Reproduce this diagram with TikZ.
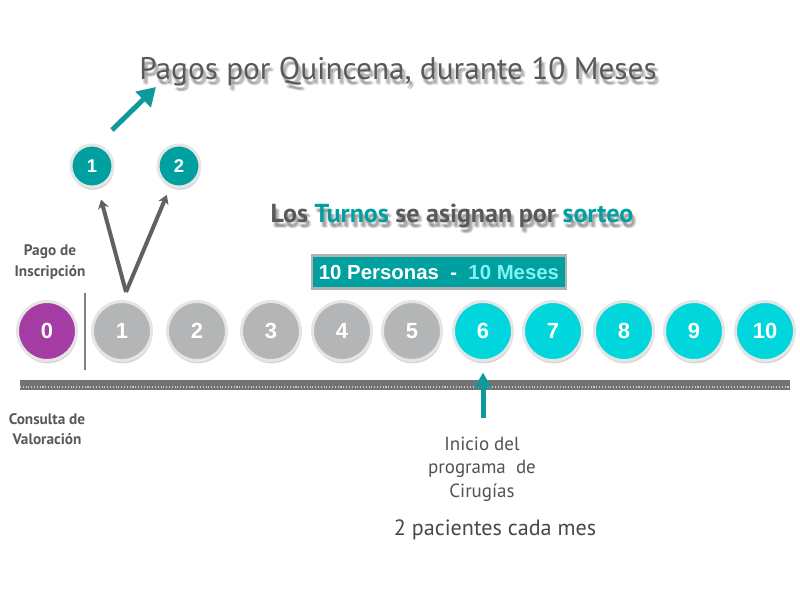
\documentclass[tikz,border=0pt]{standalone}
\usepackage{fontspec}
\setmainfont{PT Sans}
\newfontfamily\arialb{Liberation Sans}
\usetikzlibrary{shadows,arrows.meta}
\definecolor{tealdark}{HTML}{00A0A0}
\definecolor{tealbright}{HTML}{00D6DC}
\definecolor{tealarrow}{HTML}{0E9A9A}
\definecolor{purp}{HTML}{A43CA4}
\definecolor{grisc}{HTML}{B3B5B6}
\definecolor{txt}{HTML}{595959}
\definecolor{cielo}{HTML}{80F4F4}
\begin{document}
\begin{tikzpicture}[x=0.02cm,y=-0.02cm,
  bola/.style={circle,draw=black!10,line width=1.7pt,minimum size=1.18cm,inner sep=0pt,
    text=white,font=\arialb\bfseries\fontsize{12.5}{12.5}\selectfont,
    drop shadow={shadow xshift=0.4pt,shadow yshift=-1.6pt,opacity=.35}},
  chica/.style={bola,minimum size=0.84cm,fill=tealdark,font=\arialb\bfseries\fontsize{10.5}{10.5}\selectfont},
  rotulo/.style={text=txt,align=center,font=\bfseries\fontsize{8.7}{11.5}\selectfont},
  sombra/.style={text=black,text opacity=.12}]
\useasboundingbox (0,0) rectangle (800,600);
% title with a soft shadow
\foreach \dx/\dy in {2/4,4/5,3/6,1/5}
  \node[sombra,font=\fontsize{17.8}{17.8}\selectfont] at (398+\dx,72+\dy) {Pagos por Quincena, durante 10 Meses};
\node[text=txt,font=\fontsize{17.8}{17.8}\selectfont] (titulo) at (398,72) {Pagos por Quincena, durante 10 Meses};
\coordinate (p0) at (112,130);
\coordinate (p1) at (156,87);
\draw[tealarrow,line width=0.1cm,-{Triangle[width=0.42cm,length=0.36cm]}] (p0) -- (p1);
% small circles
\node[chica] (s1) at (92,166) {1};
\node[chica] (s2) at (179,166) {2};
% subtitle
\foreach \dx/\dy in {2/4,4/5,3/6,1/5}
  \node[sombra,font=\bfseries\fontsize{14.8}{14.8}\selectfont] at (452+\dx,216+\dy) {Los Turnos se asignan por sorteo};
\node[text=txt,font=\bfseries\fontsize{14.8}{14.8}\selectfont] (turnos) at (452,216)
  {Los \textcolor{tealdark}{Turnos} se asignan por \textcolor{tealdark}{sorteo}};
\node[fill=tealdark,draw=black!30,line width=1.2pt,minimum width=5.08cm,minimum height=0.66cm,
  text=white,font=\arialb\bfseries\fontsize{11.6}{11.6}\selectfont] (caja) at (439,272)
  {10 Personas\ \ -\ \ \textcolor{cielo}{10 Meses}};
% labels
\node[rotulo] (pago) at (50,262) {Pago de\\Inscripción};
\node[rotulo] (consulta) at (47,429) {Consulta de\\Valoración};
% timeline
\draw[black!55,line width=0.2cm] (20,385) -- (790,385);
\draw[white,line width=0.6pt,densely dotted,opacity=.6] (20,387) -- (790,387);
\draw[black!50,line width=1.4pt] (85,293) -- (85,370);
\foreach \n/\x/\c in {0/47/purp,1/122/grisc,2/197/grisc,3/271/grisc,4/342/grisc,5/412/grisc,
  6/483/tealbright,7/553/tealbright,8/624/tealbright,9/694/tealbright,10/765/tealbright}
  \node[bola,fill=\c] (c\n) at (\x,331) {\n};
% choices of the first turn
\coordinate (vee) at (126,292);
\draw[black!62,line width=0.08cm,-{Stealth[width=0.22cm,length=0.18cm]},shorten >=7pt] (vee) -- (s1);
\draw[black!62,line width=0.08cm,-{Stealth[width=0.22cm,length=0.18cm]},shorten >=5pt] (vee) -- (s2);
% start of surgeries
\coordinate (inicio) at (483,418);
\draw[tealarrow,line width=0.1cm,-{Triangle[width=0.32cm,length=0.3cm]},shorten >=6pt] (inicio) -- (c6);
\node[text=black!68,align=center,font=\fontsize{10.8}{13.3}\selectfont] (cirugias) at (482,469)
  {Inicio del\\programa\ \ de\\Cirugías};
\node[text=black!72,font=\fontsize{12.6}{12.6}\selectfont] (pacientes) at (495,530) {2 pacientes cada mes};
\end{tikzpicture}
\end{document}
